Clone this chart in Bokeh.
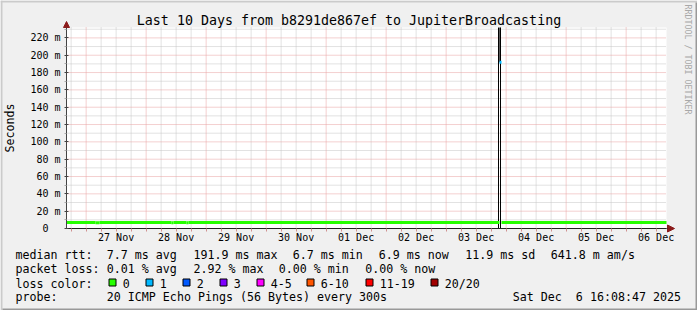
import pandas as pd
from bokeh.plotting import figure
from bokeh.models import (Range1d, FixedTicker, DatetimeTickFormatter, CustomJSTickFormatter,
                          Label, Arrow, NormalHead, BoxAnnotation, ColumnDataSource)
from bokeh.embed import file_html
from bokeh.resources import INLINE

# ---------------- data ----------------
title_text = "Last 10 Days from b8291de867ef to JupiterBroadcasting"
y_title = "Seconds"
period_start = "2025-11-26 16:08:47"
period_end = "2025-12-06 16:08:47"
y_max_ms = 232.0

y_ticks_ms = [0, 20, 40, 60, 80, 100, 120, 140, 160, 180, 200, 220]
y_minor_ms = [10, 30, 50, 70, 90, 110, 130, 150, 170, 190, 210, 230]

# median RTT (ms), piecewise constant periods, coloured by loss class
med_from = ["2025-11-26 16:08:47", "2025-11-27 03:45:00", "2025-11-27 05:20:00",
            "2025-11-28 10:05:00", "2025-11-28 10:55:00", "2025-11-28 16:05:00",
            "2025-11-28 16:55:00", "2025-12-03 21:20:47", "2025-12-03 22:08:47"]
med_to = ["2025-11-27 03:45:00", "2025-11-27 05:20:00", "2025-11-28 10:05:00",
          "2025-11-28 10:55:00", "2025-11-28 16:05:00", "2025-11-28 16:55:00",
          "2025-12-03 21:20:47", "2025-12-03 22:08:47", "2025-12-06 16:08:47"]
med_rtt = [7.0, 6.7, 7.0, 6.7, 7.0, 6.7, 7.0, 191.9, 7.0]
med_loss = [0, 0, 0, 0, 0, 0, 0, 1, 0]

# smoke (spread of the pings) during the spike; tops clipped at the graph top
smoke_line_t = ["2025-12-03 20:56:47", "2025-12-03 21:44:47"]
smoke_line_lo = [0.0, 0.0]
smoke_line_hi = [232.0, 232.0]
smoke_band_from = ["2025-12-03 21:08:47"]
smoke_band_to = ["2025-12-03 21:44:47"]
smoke_band_lo = [191.9]
smoke_band_hi = [232.0]

loss_labels = ["0", "1", "2", "3", "4-5", "6-10", "11-19", "20/20"]
loss_colors = ["#26ff00", "#00b8ff", "#0059ff", "#7e00ff", "#ff00ff", "#ff5500", "#ff0000", "#a10000"]

rtt_texts = ["median rtt:", "7.7 ms avg", "191.9 ms max", "6.7 ms min", "6.9 ms now",
             "11.9 ms sd", "641.8 m am/s"]
loss_texts = ["packet loss:", "0.01 % avg", "2.92 % max", "0.00 % min", "0.00 % now"]
loss_title = "loss color:"
probe_texts = ["probe:", "20 ICMP Echo Pings (56 Bytes) every 300s"]
stamp_text = "Sat Dec  6 16:08:47 2025"
watermark = "RRDTOOL / TOBI OETIKER"

# ---------------- layout (canvas pixels) ----------------
W, H = 697, 310
FL, FT, FR, FB = 66, 27, 666, 228          # graph area inside the canvas
MONO = "DejaVu Sans Mono"
LEG = "11.65px"
rtt_x = [15, 106.3, 193, 292.3, 378.3, 464.7, 550.3]
loss_x = [15, 106.3, 193, 278.3, 364.7]
swatch_x = [108, 145, 182, 219, 256, 306, 365, 430]
probe_x = [15, 106.3]
stamp_x = 512.3
base_y = [254.7, 268.9, 283.0, 296.9]
title_y = 19.5


def ms(s):
    return pd.Timestamp(s).value / 1e6


t0, t1 = ms(period_start), ms(period_end)
upx = (t1 - t0) / (FR - FL)            # ms of time per pixel
kpx = (FB - FT) / y_max_ms             # pixels per ms of rtt

p = figure(width=W, height=H, x_axis_type="datetime", title=None,
           x_range=Range1d(t0 - FL * upx, t1 + (W - FR) * upx),
           y_range=Range1d(-(H - FB) / kpx, y_max_ms + FT / kpx),
           output_backend="svg", toolbar_location=None,
           min_border=0, min_border_left=0, min_border_right=0, min_border_top=0,
           min_border_bottom=0,
           background_fill_color="#f0f0f0", border_fill_color="#f0f0f0",
           outline_line_color=None)
p.xgrid.visible = False
p.ygrid.visible = False

# ---- graph canvas ----
p.quad(left=[t0], right=[t1], bottom=[0], top=[y_max_ms], fill_color="white", line_color=None)

# ---- grid ----
noons = pd.date_range("2025-11-27 12:00", "2025-12-06 12:00", freq="D")
midnights = pd.date_range("2025-11-27 00:00", "2025-12-06 00:00", freq="D")
six_h = pd.date_range("2025-11-26 18:00", "2025-12-06 12:00", freq="6h")
six_h_minor = [t for t in six_h if t.hour != 0]

xm = [t.value / 1e6 for t in six_h_minor]
p.segment(x0=xm, x1=xm, y0=[0] * len(xm), y1=[y_max_ms] * len(xm),
          line_color="#c4c4c4", line_dash="1 1", line_width=1)
p.segment(x0=[t0] * len(y_minor_ms), x1=[t1] * len(y_minor_ms), y0=y_minor_ms, y1=y_minor_ms,
          line_color="#c4c4c4", line_dash="1 1", line_width=1)
xM = [t.value / 1e6 for t in midnights]
p.segment(x0=xM, x1=xM, y0=[0] * len(xM), y1=[y_max_ms] * len(xM),
          line_color="#e8a0a0", line_dash="1 1", line_width=1)
p.segment(x0=[t0] * len(y_ticks_ms), x1=[t1] * len(y_ticks_ms), y0=y_ticks_ms, y1=y_ticks_ms,
          line_color="#e8a0a0", line_dash="1 1", line_width=1)

# ---- data glyphs ----
band_src = ColumnDataSource(dict(l=[ms(s) for s in smoke_band_from],
                                 r=[ms(s) for s in smoke_band_to],
                                 b=smoke_band_lo, t=smoke_band_hi))
p.quad(left="l", right="r", bottom="b", top="t", fill_color="#5a5a5a", line_color=None,
       source=band_src)

line_src = ColumnDataSource(dict(x=[ms(s) for s in smoke_line_t], lo=smoke_line_lo,
                                 hi=smoke_line_hi))
p.segment(x0="x", x1="x", y0="lo", y1="hi", line_color="#000000", line_width=1,
          source=line_src)

med_src = ColumnDataSource(dict(x0=[ms(s) for s in med_from], x1=[ms(s) for s in med_to],
                                y=med_rtt, c=[loss_colors[i] for i in med_loss]))
p.segment(x0="x0", y0="y", x1="x1", y1="y", line_color="c", line_width=3, source=med_src)

# ---- axes (fixed inside the canvas) ----
xa = p.xaxis[0]
xa.fixed_location = 0
xa.bounds = (t0, t1)
xa.ticker = FixedTicker(ticks=[t.value / 1e6 for t in noons],
                        minor_ticks=[t.value / 1e6 for t in six_h])
xa.formatter = DatetimeTickFormatter(**{k: "%d %b" for k in
                                       ["microseconds", "milliseconds", "seconds", "minsec",
                                        "minutes", "hourmin", "hours", "days", "months", "years"]})
xa.axis_line_color = "#222222"
xa.major_tick_line_color = None
xa.major_tick_out = 0
xa.major_tick_in = 0
xa.minor_tick_line_color = "#d09090"
xa.minor_tick_out = 3
xa.minor_tick_in = 0
xa.major_label_text_font = MONO
xa.major_label_text_font_size = "10px"
xa.major_label_text_color = "black"
xa.major_label_standoff = 0

ya = p.yaxis[0]
ya.fixed_location = t0
ya.bounds = (0, y_max_ms)
ya.ticker = FixedTicker(ticks=y_ticks_ms, minor_ticks=y_minor_ms)
ya.formatter = CustomJSTickFormatter(code="return tick == 0 ? '0\\u00a0\\u00a0' : tick + ' m'")
ya.axis_line_color = "#444444"
ya.major_tick_line_color = "#444444"
ya.major_tick_out = 2
ya.major_tick_in = 2
ya.minor_tick_line_color = "#aaaaaa"
ya.minor_tick_out = 2
ya.minor_tick_in = 0
ya.major_label_text_font = MONO
ya.major_label_text_font_size = "10px"
ya.major_label_text_color = "black"
ya.major_label_standoff = 4
ya.axis_label = y_title
ya.axis_label_text_font = MONO
ya.axis_label_text_font_size = LEG
ya.axis_label_text_font_style = "normal"
ya.axis_label_text_color = "black"
ya.axis_label_standoff = 10

# ---- arrows at axis ends ----
AR = "#8b1a1a"
p.add_layout(Arrow(end=NormalHead(size=6, fill_color=AR, line_color=AR, line_width=1),
                   x_start=FL, y_start=H - FT, x_end=FL, y_end=H - FT + 6,
                   start_units="screen", end_units="screen", line_color="#444444"))
p.add_layout(Arrow(end=NormalHead(size=7, fill_color=AR, line_color=AR, line_width=1),
                   x_start=FR, y_start=H - FB, x_end=FR + 8, y_end=H - FB,
                   start_units="screen", end_units="screen", line_color="#222222"))


def put(text, cx, cy, size=LEG, align="left", baseline="alphabetic", angle=0.0, color="black"):
    p.add_layout(Label(x=cx, y=H - cy, x_units="screen", y_units="screen", text=text,
                       text_font=MONO, text_font_size=size, text_align=align,
                       text_baseline=baseline, angle=angle, text_color=color))


put(title_text, W / 2, title_y, size="13.3px", align="center")
put(watermark, 687, 59, size="8.3px", align="center", baseline="middle", angle=-1.5707963,
    color="#a8a8a8")

for t, x in zip(rtt_texts, rtt_x):
    put(t, x, base_y[0])
for t, x in zip(loss_texts, loss_x):
    put(t, x, base_y[1])
put(loss_title, 15, base_y[2])
for lab, col, bx in zip(loss_labels, loss_colors, swatch_x):
    p.add_layout(BoxAnnotation(left=bx + 0.5, right=bx + 7.5,
                               top=H - 278.5, bottom=H - 285.5,
                               left_units="screen", right_units="screen",
                               top_units="screen", bottom_units="screen",
                               fill_color=col, fill_alpha=1, line_color="black",
                               line_alpha=1, line_width=1))
    put(lab, bx + 14.3, base_y[2])
for t, x in zip(probe_texts, probe_x):
    put(t, x, base_y[3])
# keep the double space of the time stamp (SVG collapses plain runs of spaces)
put(stamp_text.replace("  ", " \u00a0"), stamp_x, base_y[3])

# ---- 3D-ish outer border ----
for (l, r, t, b, c) in [(0, W, 0, 2, "#cbcbcb"), (0, 2, 0, H, "#cbcbcb"),
                        (W - 2, W, 2, H, "#999999"), (2, W, H - 2, H, "#999999")]:
    p.add_layout(BoxAnnotation(left=l, right=r, top=H - t, bottom=H - b,
                               left_units="screen", right_units="screen",
                               top_units="screen", bottom_units="screen",
                               fill_color=c, fill_alpha=1, line_color=None))

open("out.html", "w").write(file_html(p, INLINE))
